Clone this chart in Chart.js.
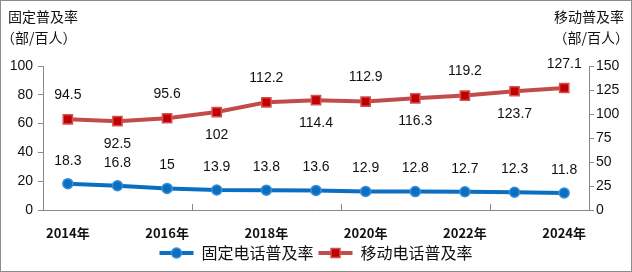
<!DOCTYPE html>
<html>
<head>
<meta charset="utf-8">
<script src="https://cdn.jsdelivr.net/npm/chart.js@4/dist/chart.umd.min.js"></script>
<style>
html, body { margin: 0; padding: 0; background: #fff; }
#box { width: 632px; height: 272px; box-sizing: border-box; border: 1px solid #8c8c8c; }
canvas { display: block; }
</style>
</head>
<body>
<div id="box"><canvas id="myChart" width="630" height="270"></canvas></div>
<script>
// data
var years = ["2014年","2015年","2016年","2017年","2018年","2019年","2020年","2021年","2022年","2023年","2024年"];
var fixedRate = [18.3, 16.8, 15, 13.9, 13.8, 13.6, 12.9, 12.8, 12.7, 12.3, 11.8];
var mobileRate = [94.5, 92.5, 95.6, 102, 112.2, 114.4, 112.9, 116.3, 119.2, 123.7, 127.1];
var leftTicks = [0, 20, 40, 60, 80, 100];
var rightTicks = [0, 25, 50, 75, 100, 125, 150];

var numFont = "'Liberation Sans', Arial, 'Noto Sans CJK SC', sans-serif";
var cjkFont = "'Noto Sans CJK SC', 'Liberation Sans', sans-serif";
var axisColor = "#898989";

// value labels, unit titles, inner x tick marks, legend markers
var extras = {
	id: "extras",
	afterDatasetsDraw: function(chart) {
		var ctx = chart.ctx;
		ctx.save();
		ctx.font = "14px " + numFont;
		ctx.fillStyle = "#111";
		ctx.textAlign = "center";
		ctx.textBaseline = "middle";
		chart.getDatasetMeta(0).data.forEach(function(p, i) {
			ctx.fillText(String(fixedRate[i]), p.x, p.y - 23);
		});
		chart.getDatasetMeta(1).data.forEach(function(p, i) {
			var dy = (i % 2 == 0) ? -24 : 23;
			ctx.fillText(String(mobileRate[i]), p.x, p.y + dy);
		});

		// small tick marks pointing up from the x axis, every 3 categories
		var xs = chart.scales.x;
		var bottom = chart.chartArea.bottom;
		ctx.strokeStyle = axisColor;
		ctx.lineWidth = 1;
		[3, 6, 9].forEach(function(k) {
			var x = Math.round((xs.getPixelForValue(k - 1) + xs.getPixelForValue(k)) / 2) + 0.5;
			ctx.beginPath();
			ctx.moveTo(x, bottom);
			ctx.lineTo(x, bottom - 6);
			ctx.stroke();
		});

		// unit titles
		ctx.font = "14px " + cjkFont;
		ctx.fillStyle = "#111";
		ctx.textAlign = "left";
		ctx.fillText("固定普及率", 7, 16);
		ctx.fillText("（部/百人）", 0, 37);
		ctx.textAlign = "right";
		ctx.fillText("移动普及率", 623, 16);
		ctx.fillText("（部/百人）", 628, 37);
		ctx.restore();
	},
	afterDraw: function(chart) {
		var lg = chart.legend;
		if (!lg || !lg.legendHitBoxes) return;
		var ctx = chart.ctx;
		ctx.save();
		lg.legendHitBoxes.forEach(function(hb, i) {
			var ds = chart.data.datasets[i];
			var cx = hb.left + lg.options.labels.boxWidth / 2;
			var cy = hb.top + hb.height / 2;
			ctx.fillStyle = ds.pointBackgroundColor;
			ctx.strokeStyle = ds.pointBorderColor;
			ctx.lineWidth = 1.5;
			ctx.beginPath();
			if (ds.pointStyle == "rect") {
				ctx.rect(cx - 4.5, cy - 4.5, 9, 9);
			} else {
				ctx.arc(cx, cy, 5, 0, Math.PI * 2);
			}
			ctx.fill();
			ctx.stroke();
		});
		ctx.restore();
	}
};

var myChart = new Chart("myChart", {
	type: "line",
	data: {
		labels: years,
		datasets: [{
			label: "固定电话普及率",
			data: fixedRate,
			yAxisID: "y",
			borderColor: "#0a6fc2",
			backgroundColor: "#0a6fc2",
			borderWidth: 4,
			pointStyle: "circle",
			pointRadius: 5,
			pointBackgroundColor: "#0a6fc2",
			pointBorderColor: "#3b8fd3",
			pointBorderWidth: 1.5,
			tension: 0
		}, {
			label: "移动电话普及率",
			data: mobileRate,
			yAxisID: "y1",
			borderColor: "#c24c4c",
			backgroundColor: "#c24c4c",
			borderWidth: 4,
			pointStyle: "rect",
			pointRadius: 6.5,
			pointBackgroundColor: "#c00000",
			pointBorderColor: "#d65050",
			pointBorderWidth: 1.5,
			tension: 0
		}]
	},
	options: {
		responsive: false,
		animation: false,
		devicePixelRatio: 1,
		layout: { padding: { top: 65, left: 0, right: 0, bottom: 0 } },
		plugins: {
			tooltip: { enabled: false },
			legend: {
				position: "bottom",
				labels: {
					boxWidth: 34,
					boxHeight: 4,
					padding: 5,
					color: "#111",
					font: { family: cjkFont, size: 16 },
					generateLabels: function(chart) {
						var items = Chart.defaults.plugins.legend.labels.generateLabels(chart);
						items.forEach(function(it) { it.lineWidth = 0; });
						return items;
					}
				}
			}
		},
		scales: {
			x: {
				offset: true,
				grid: { display: false },
				border: { display: true, color: axisColor },
				ticks: {
					autoSkip: false,
					maxRotation: 0,
					padding: 7,
					color: "#111",
					font: { family: cjkFont, size: 13, weight: "bold" },
					callback: function(v, i) { return i % 2 == 0 ? years[i] : ""; }
				},
				afterFit: function(s) { s.height = 30; }
			},
			y: {
				position: "left",
				min: leftTicks[0],
				max: leftTicks[leftTicks.length - 1],
				grid: { drawOnChartArea: false, tickLength: 5, color: axisColor },
				border: { color: axisColor },
				ticks: {
					stepSize: leftTicks[1] - leftTicks[0],
					padding: 5,
					color: "#111",
					font: { family: numFont, size: 14 }
				},
				afterFit: function(s) { s.width = 42; }
			},
			y1: {
				position: "right",
				min: rightTicks[0],
				max: rightTicks[rightTicks.length - 1],
				grid: { drawOnChartArea: false, tickLength: 5, color: axisColor },
				border: { color: axisColor },
				ticks: {
					stepSize: rightTicks[1] - rightTicks[0],
					padding: 2,
					color: "#111",
					font: { family: numFont, size: 14 }
				},
				afterFit: function(s) { s.width = 42; }
			}
		}
	},
	plugins: [extras]
});
</script>
</body>
</html>
